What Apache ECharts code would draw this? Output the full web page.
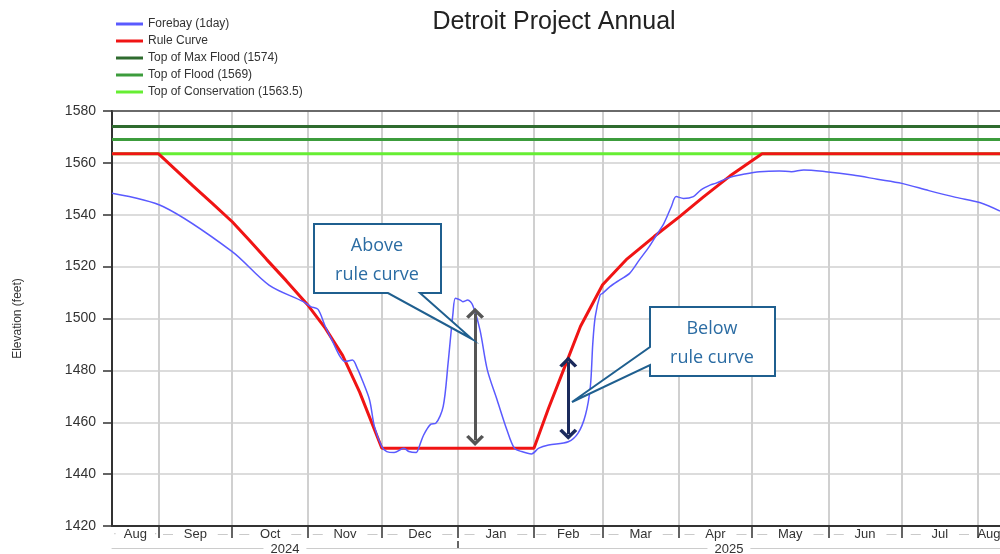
<!DOCTYPE html>
<html>
<head>
<meta charset="utf-8">
<script src="https://cdn.jsdelivr.net/npm/echarts@6/dist/echarts.min.js"></script>
<style>
  html, body { margin: 0; padding: 0; background: #fff; }
  #chart { width: 1000px; height: 554px; }
</style>
</head>
<body>
<div id="chart"></div>
<script>
// ---- data ----
var axisStart = '2024-08-13';
var axisEnd = '2025-08-10';

var monthStarts = ['2024-09-01', '2024-10-01', '2024-11-01', '2024-12-01', '2025-01-01', '2025-02-01',
    '2025-03-01', '2025-04-01', '2025-05-01', '2025-06-01', '2025-07-01', '2025-08-01'];
var monthNames = ['Aug', 'Sep', 'Oct', 'Nov', 'Dec', 'Jan', 'Feb', 'Mar', 'Apr', 'May', 'Jun', 'Jul', 'Aug'];
var yearStarts = ['2025-01-01'];
var yearNames = ['2024', '2025'];

var forebayDates = ['2024-08-13', '2024-09-03', '2024-10-01', '2024-10-16', '2024-10-30', '2024-11-02', '2024-11-05',
    '2024-11-08', '2024-11-11', '2024-11-14', '2024-11-16', '2024-11-19', '2024-11-21', '2024-11-23', '2024-11-26',
    '2024-11-28', '2024-12-01', '2024-12-03', '2024-12-06', '2024-12-10', '2024-12-12', '2024-12-15', '2024-12-16',
    '2024-12-18', '2024-12-21', '2024-12-23', '2024-12-26', '2024-12-28', '2024-12-30', '2024-12-31', '2025-01-02',
    '2025-01-03', '2025-01-05', '2025-01-07', '2025-01-10', '2025-01-13', '2025-01-17', '2025-01-21', '2025-01-24',
    '2025-01-27', '2025-01-31', '2025-02-03', '2025-02-07', '2025-02-15', '2025-02-19', '2025-02-22', '2025-02-24',
    '2025-02-25', '2025-02-26', '2025-02-28', '2025-03-01', '2025-03-04', '2025-03-08', '2025-03-12', '2025-03-16',
    '2025-03-20', '2025-03-23', '2025-03-26', '2025-03-29', '2025-03-31', '2025-04-03', '2025-04-07', '2025-04-10',
    '2025-04-14', '2025-04-16', '2025-04-22', '2025-04-28', '2025-05-04', '2025-05-12', '2025-05-17', '2025-05-22',
    '2025-05-31', '2025-06-11', '2025-06-21', '2025-07-01', '2025-07-12', '2025-07-23', '2025-08-02', '2025-08-10'];
var forebayValues = [1548.3, 1543.1, 1525.8, 1512.9, 1506.5, 1504.6, 1503.5,
    1496.8, 1491, 1485.3, 1483.4, 1484, 1480.8, 1476.3, 1468.6,
    1458.3, 1450.6, 1448.7, 1448.3, 1450, 1448.7, 1448.3, 1450,
    1455, 1459.3, 1459.6, 1466, 1482.7, 1502, 1507.8, 1507.1,
    1506.5, 1507.1, 1505.2, 1495.6, 1480.2, 1468.6, 1457, 1450,
    1448.7, 1447.8, 1450, 1451.2, 1452.5, 1455.8, 1462.8, 1473.7,
    1490.4, 1500.7, 1509.1, 1509.7, 1512.3, 1514.9, 1517.4, 1522.6,
    1527.7, 1532.2, 1536.7, 1543.1, 1547, 1546.3, 1547, 1549.5,
    1551.5, 1552.1, 1554.4, 1555.7, 1556.6, 1556.9, 1556.6, 1557.3,
    1556.6, 1555.3, 1553.7, 1552.1, 1549.3, 1546.7, 1544.6, 1541.4];

var ruleDates = ['2024-08-13', '2024-09-01', '2024-09-08', '2024-09-15', '2024-09-23', '2024-10-01', '2024-10-08',
    '2024-10-15', '2024-10-23', '2024-11-01', '2024-11-08', '2024-11-15', '2024-11-22', '2024-12-01', '2025-02-01',
    '2025-02-07', '2025-02-13', '2025-02-20', '2025-03-01', '2025-03-11', '2025-03-22', '2025-04-01', '2025-04-11',
    '2025-04-22', '2025-05-05', '2025-08-10'];
var ruleValues = [1563.5, 1563.5, 1557.3, 1551.1, 1544.3, 1537.3, 1530.2,
    1522.8, 1514.6, 1505, 1496.2, 1485.8, 1471.5, 1450, 1450,
    1465.5, 1480, 1497, 1513, 1523, 1531.6, 1539, 1546.8,
    1555, 1563.5, 1563.5];

var maxFloodLevel = 1574;
var floodLevel = 1569;
var conservationLevel = 1563.5;

// arrows: [date, top, bottom]
var aboveArrow = ['2025-01-08', 1502, 1453];
var belowArrow = ['2025-02-15', 1483.2, 1455.4];

// ---- helpers ----
function ts(s) {
    var p = s.split('-');
    return new Date(+p[0], p[1] - 1, +p[2]).getTime();
}
function pairs(dates, vals) {
    var out = [];
    for (var i = 0; i < dates.length; i++) out.push([ts(dates[i]), vals[i]]);
    return out;
}
function flat(v) {
    return [[ts(axisStart), v], [ts(axisEnd), v]];
}

var minT = ts(axisStart), maxT = ts(axisEnd);
var monthTicks = monthStarts.map(ts);
var edges = [minT].concat(monthTicks).concat([maxT]);
var monthLabelPos = [];
for (var i = 0; i < edges.length - 1; i++) monthLabelPos.push((edges[i] + edges[i + 1]) / 2);
var yearTicks = yearStarts.map(ts);
var yEdges = [minT].concat(yearTicks).concat([maxT]);
var yearLabelPos = [];
for (var i = 0; i < yEdges.length - 1; i++) yearLabelPos.push((yEdges[i] + yEdges[i + 1]) / 2);

function nearest(arr, v) {
    var best = 0;
    for (var i = 1; i < arr.length; i++) if (Math.abs(arr[i] - v) < Math.abs(arr[best] - v)) best = i;
    return best;
}

var chevron = 'path://M12,0 L24,12 L20.5,15 L12,6.5 L3.5,15 L0,12 Z';
var font = '"Liberation Sans", Arial, sans-serif';

var chart = echarts.init(document.getElementById('chart'));
var option = {
    animation: false,
    textStyle: { fontFamily: font },
    title: {
        text: 'Detroit Project Annual',
        left: 549,
        top: 5,
        textAlign: 'center',
        textStyle: { fontSize: 25, fontWeight: 'normal', color: '#222', fontFamily: font }
    },
    legend: {
        orient: 'vertical',
        left: 111,
        top: 12,
        icon: 'rect',
        itemWidth: 27,
        itemHeight: 3,
        itemGap: 3,
        textStyle: { fontSize: 12, color: '#333', lineHeight: 14, fontFamily: font },
        data: ['Forebay (1day)', 'Rule Curve', 'Top of Max Flood (1574)', 'Top of Flood (1569)', 'Top of Conservation (1563.5)']
    },
    grid: { left: 112, right: 0, top: 111, bottom: 28, outerBoundsMode: 'none' },
    xAxis: [
        {
            type: 'value',
            min: minT,
            max: maxT,
            axisLine: { lineStyle: { color: '#333', width: 2 } },
            axisTick: { show: true, customValues: monthTicks, length: 12, lineStyle: { color: '#333', width: 1.5 } },
            axisLabel: {
                customValues: monthLabelPos,
                hideOverlap: false,
                margin: 2,
                fontSize: 13,
                color: '#333',
                formatter: function (v) {
                    var i = nearest(monthLabelPos, v);
                    if (i === 0) return '{d|·}  ' + monthNames[i] + '  {d|·}';
                    if (i === monthNames.length - 1) return monthNames[i];
                    return '{d|—}   ' + monthNames[i] + '   {d|—}';
                },
                rich: { d: { color: '#bbb', fontSize: 10 } }
            },
            splitLine: { show: true, lineStyle: { color: '#d0d0d0', width: 2 } }
        },
        {
            type: 'value',
            min: minT,
            max: maxT,
            position: 'bottom',
            offset: 22,
            axisLine: { lineStyle: { color: '#cccccc', width: 1 } },
            axisTick: { show: true, customValues: yearTicks, inside: true, length: 7, lineStyle: { color: '#333', width: 1.5 } },
            axisLabel: {
                customValues: yearLabelPos,
                hideOverlap: false,
                margin: -5,
                fontSize: 13,
                color: '#333',
                backgroundColor: '#fff',
                padding: [0, 7],
                formatter: function (v) {
                    return yearNames[nearest(yearLabelPos, v)];
                }
            },
            splitLine: { show: false }
        },
        {
            type: 'value',
            min: minT,
            max: maxT,
            position: 'top',
            axisLine: { lineStyle: { color: '#444', width: 1.5 } },
            axisTick: { show: false },
            axisLabel: { show: false },
            splitLine: { show: false }
        }
    ],
    yAxis: {
        type: 'value',
        min: 1420,
        max: 1580,
        interval: 20,
        name: 'Elevation (feet)',
        nameLocation: 'middle',
        nameGap: 88,
        nameTextStyle: { fontSize: 12, color: '#333', fontFamily: font },
        axisLine: { show: true, lineStyle: { color: '#333', width: 2 } },
        axisTick: { show: true, length: 9, lineStyle: { color: '#333', width: 1.5 } },
        axisLabel: {
            fontSize: 14, color: '#333', margin: 16,
            formatter: function (v) { return String(v); }
        },
        splitLine: { show: true, lineStyle: { color: '#dcdcdc', width: 2 } }
    },
    series: [
        {
            name: 'Top of Max Flood (1574)',
            type: 'line',
            showSymbol: false,
            z: 2,
            color: '#2f6b2f',
            lineStyle: { width: 3, color: '#2f6b2f' },
            data: flat(maxFloodLevel)
        },
        {
            name: 'Top of Flood (1569)',
            type: 'line',
            showSymbol: false,
            z: 2,
            color: '#3c9c3c',
            lineStyle: { width: 3, color: '#3c9c3c' },
            data: flat(floodLevel)
        },
        {
            name: 'Top of Conservation (1563.5)',
            type: 'line',
            showSymbol: false,
            z: 2,
            color: '#66ee33',
            lineStyle: { width: 3, color: '#66ee33' },
            data: flat(conservationLevel)
        },
        {
            name: 'Rule Curve',
            type: 'line',
            showSymbol: false,
            z: 3,
            color: '#f01414',
            lineStyle: { width: 3, color: '#f01414' },
            data: pairs(ruleDates, ruleValues)
        },
        {
            name: 'Forebay (1day)',
            type: 'line',
            showSymbol: false,
            smooth: 0.3,
            z: 4,
            color: '#5a5aff',
            lineStyle: { width: 1.5, color: '#5a5aff' },
            data: pairs(forebayDates, forebayValues),
            markLine: {
                silent: true,
                symbol: [chevron, chevron],
                symbolSize: [18, 11],
                label: { show: false },
                lineStyle: { type: 'solid', width: 3 },
                data: [
                    [
                        { coord: [ts(aboveArrow[0]), aboveArrow[1]], lineStyle: { color: '#555', width: 3, type: 'solid' } },
                        { coord: [ts(aboveArrow[0]), aboveArrow[2]] }
                    ],
                    [
                        { coord: [ts(belowArrow[0]), belowArrow[1]], lineStyle: { color: '#1b2a5c', width: 3, type: 'solid' } },
                        { coord: [ts(belowArrow[0]), belowArrow[2]] }
                    ]
                ]
            }
        }
    ],
    graphic: [
        {
            type: 'polygon',
            z: 100,
            shape: { points: [[314, 224], [441, 224], [441, 293], [420, 293], [472, 339], [388, 293], [314, 293]] },
            style: { fill: '#fff', stroke: '#1f5f8f', lineWidth: 2 }
        },
        {
            type: 'text',
            z: 101,
            x: 377,
            y: 260,
            style: {
                text: 'Above\nrule curve',
                font: '18px "Open Sans", sans-serif',
                fill: '#2b6ca3',
                align: 'center',
                verticalAlign: 'middle',
                lineHeight: 29
            }
        },
        {
            type: 'polygon',
            z: 100,
            shape: { points: [[650, 307], [775, 307], [775, 376], [650, 376], [650, 365], [572, 402], [650, 347]] },
            style: { fill: '#fff', stroke: '#1f5f8f', lineWidth: 2 }
        },
        {
            type: 'text',
            z: 101,
            x: 712,
            y: 343,
            style: {
                text: 'Below\nrule curve',
                font: '18px "Open Sans", sans-serif',
                fill: '#2b6ca3',
                align: 'center',
                verticalAlign: 'middle',
                lineHeight: 29
            }
        }
    ]
};
chart.setOption(option);
</script>
</body>
</html>
